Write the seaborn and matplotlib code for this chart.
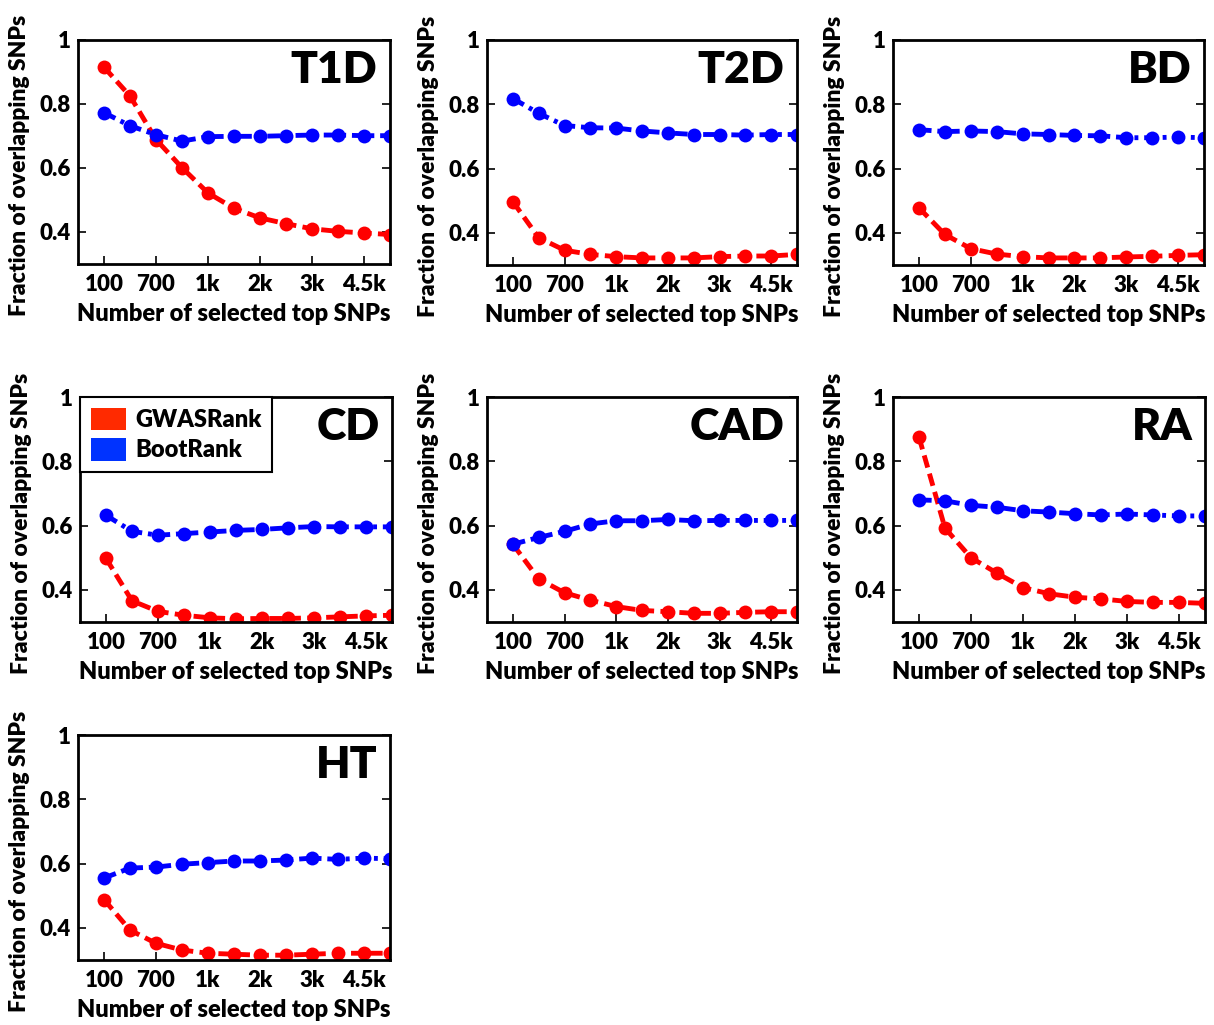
import matplotlib
matplotlib.use("Agg")
import matplotlib.pyplot as plt
from matplotlib.patches import Patch
import seaborn as sns
import numpy as np
import pandas as pd

# x positions are categorical steps, only every other one is labelled
steps = list(range(12))
tick_pos = [0, 2, 4, 6, 8, 10]
tick_labels = ['100', '700', '1k', '2k', '3k', '4.5k']

diseases = ['T1D', 'T2D', 'BD', 'CD', 'CAD', 'RA', 'HT']

gwas_t1d = [0.915, 0.825, 0.689, 0.601, 0.522, 0.474, 0.444, 0.426, 0.410, 0.402, 0.397, 0.392]
boot_t1d = [0.773, 0.732, 0.704, 0.684, 0.698, 0.699, 0.699, 0.701, 0.703, 0.703, 0.701, 0.701]

gwas_t2d = [0.497, 0.385, 0.346, 0.333, 0.326, 0.322, 0.322, 0.322, 0.326, 0.328, 0.328, 0.333]
boot_t2d = [0.818, 0.772, 0.734, 0.727, 0.726, 0.717, 0.711, 0.706, 0.706, 0.704, 0.706, 0.706]

gwas_bd = [0.478, 0.395, 0.351, 0.334, 0.326, 0.322, 0.322, 0.322, 0.325, 0.327, 0.330, 0.332]
boot_bd = [0.721, 0.715, 0.717, 0.715, 0.708, 0.706, 0.703, 0.702, 0.696, 0.696, 0.698, 0.696]

gwas_cd = [0.498, 0.366, 0.333, 0.321, 0.313, 0.310, 0.311, 0.311, 0.313, 0.316, 0.319, 0.321]
boot_cd = [0.632, 0.582, 0.570, 0.575, 0.580, 0.585, 0.588, 0.593, 0.597, 0.596, 0.596, 0.596]

gwas_cad = [0.542, 0.434, 0.391, 0.368, 0.348, 0.336, 0.332, 0.327, 0.327, 0.330, 0.332, 0.332]
boot_cad = [0.542, 0.563, 0.582, 0.605, 0.615, 0.615, 0.619, 0.615, 0.616, 0.616, 0.616, 0.616]

gwas_ra = [0.875, 0.592, 0.500, 0.452, 0.407, 0.388, 0.377, 0.372, 0.364, 0.361, 0.361, 0.358]
boot_ra = [0.680, 0.677, 0.663, 0.657, 0.646, 0.642, 0.637, 0.633, 0.636, 0.633, 0.630, 0.630]

gwas_ht = [0.488, 0.393, 0.352, 0.331, 0.321, 0.318, 0.315, 0.315, 0.318, 0.321, 0.321, 0.321]
boot_ht = [0.555, 0.586, 0.589, 0.598, 0.603, 0.608, 0.608, 0.611, 0.617, 0.613, 0.617, 0.615]

gwas_all = [gwas_t1d, gwas_t2d, gwas_bd, gwas_cd, gwas_cad, gwas_ra, gwas_ht]
boot_all = [boot_t1d, boot_t2d, boot_bd, boot_cd, boot_cad, boot_ra, boot_ht]

sns.set_style("white")
plt.rcParams['font.family'] = ['Lato', 'DejaVu Sans']
plt.rcParams['font.weight'] = 'heavy'
for key in ['text.color', 'axes.labelcolor', 'xtick.color', 'ytick.color']:
    plt.rcParams[key] = 'black'

fig = plt.figure(figsize=(12.14, 10.25), dpi=100)

W, H = 1214, 1025
# axes boxes in pixels: left, top, right, bottom
boxes = [
    (78, 40, 390, 264), (487, 40, 797, 265), (893, 40, 1204, 265),
    (80, 397, 392, 622), (487, 397, 797, 622), (893, 397, 1205, 622),
    (78, 735, 390, 960),
]

for i, name in enumerate(diseases):
    l, t, r, b = boxes[i]
    ax = fig.add_axes([l / W, 1 - b / H, (r - l) / W, (b - t) / H])

    df = pd.DataFrame({'step': steps, 'GWASRank': gwas_all[i], 'BootRank': boot_all[i]})
    sns.lineplot(data=df, x='step', y='GWASRank', ax=ax, color='#ff0000',
                 dashes=(2.6, 1.3), lw=3.5, marker='o', markersize=10, markeredgewidth=0)
    sns.lineplot(data=df, x='step', y='BootRank', ax=ax, color='#0000ff',
                 dashes=(2.6, 1.2, 0.8, 1.2), lw=3.5, marker='o', markersize=10,
                 markeredgewidth=0)

    ax.set_xlim(-1, 11)
    ax.set_ylim(0.3, 1.0)
    ax.set_xticks(tick_pos)
    ax.set_xticklabels(tick_labels)
    ax.set_yticks([0.4, 0.6, 0.8, 1.0])
    ax.set_yticklabels(['0.4', '0.6', '0.8', '1'])
    ax.tick_params(axis='both', direction='in', length=6, width=1.2,
                   labelsize=16, top=False, right=True, bottom=True, left=True)
    ax.tick_params(axis='x', pad=7)
    ax.tick_params(axis='y', pad=5)
    for lab in ax.get_xticklabels() + ax.get_yticklabels():
        lab.set_fontweight('heavy')
    for sp in ax.spines.values():
        sp.set_visible(True)
        sp.set_color('black')
        sp.set_linewidth(2)

    ax.set_xlabel('Number of selected top SNPs', fontsize=17, fontweight='heavy', labelpad=6)
    ax.set_ylabel('Fraction of overlapping SNPs', fontsize=16.5, fontweight='heavy')
    ax.yaxis.set_label_coords(-0.155, 0.44)

    ax.text(0.96, 0.955, name, transform=ax.transAxes, ha='right', va='top',
            fontsize=32, fontweight='heavy')

    if name == 'CD':
        handles = [Patch(facecolor='#ff2a00', edgecolor='none', label='GWASRank'),
                   Patch(facecolor='#0033ff', edgecolor='none', label='BootRank')]
        leg = ax.legend(handles=handles, loc='upper left', borderaxespad=0,
                        fontsize=17, frameon=True, fancybox=False, framealpha=1,
                        handlelength=1.5, handleheight=1.1, handletextpad=0.4,
                        borderpad=0.45, labelspacing=0.3)
        leg.get_frame().set_edgecolor('black')
        leg.get_frame().set_linewidth(1.5)
        for txt in leg.get_texts():
            txt.set_fontweight('heavy')

fig.savefig('out.png', dpi=100)
plt.close(fig)
